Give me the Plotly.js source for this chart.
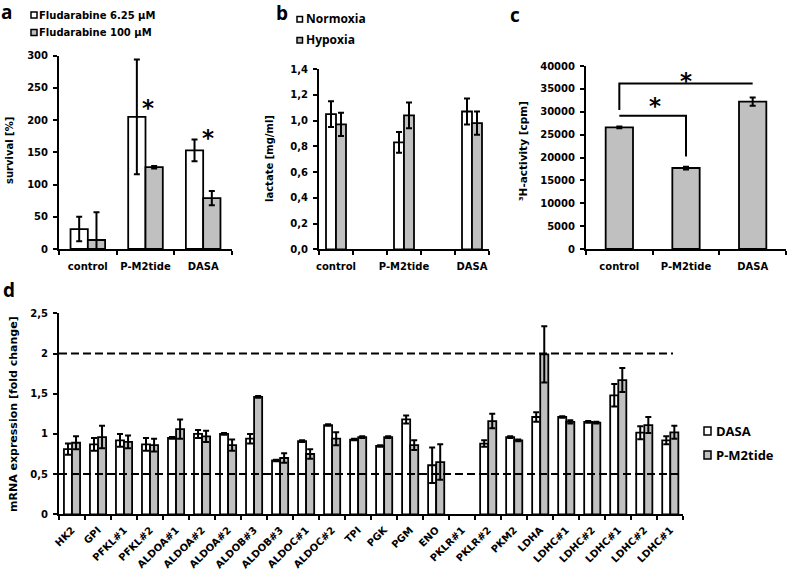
<!DOCTYPE html>
<html><head><meta charset="utf-8">
<script src="https://cdn.plot.ly/plotly-3.0.1.min.js"></script>
<style>html,body{margin:0;padding:0;background:#fff}#chart{width:787px;height:577px}</style>
</head><body><div id="chart"></div>
<script>
// ---- Panel a: survival [%]
const catsA = ['control', 'P-M2tide', 'DASA'];
const fluLowVals = [31, 205, 153];
const fluLowErr = [19, 89, 17];
const fluHighVals = [14, 127, 79];
const fluHighErr = [43, 2, 11];
const fluHighErrMinus = [14, 2, 11];

// ---- Panel b: lactate [mg/ml]
const catsB = ['control', '', 'P-M2tide', '', 'DASA'];
const normoxiaVals = [1.05, null, 0.83, null, 1.07];
const normoxiaErr = [0.10, null, 0.08, null, 0.10];
const hypoxiaVals = [0.97, null, 1.04, null, 0.98];
const hypoxiaErr = [0.09, null, 0.10, null, 0.09];

// ---- Panel c: 3H-activity [cpm]
const catsC = ['control', 'P-M2tide', 'DASA'];
const activityVals = [26600, 17700, 32200];
const activityErr = [200, 300, 900];

// ---- Panel d: mRNA expression [fold change]
const genes = ['HK2','GPI','PFKL#1','PFKL#2','ALDOA#1','ALDOA#2','ALDOA#2','ALDOB#3','ALDOB#3','ALDOC#1','ALDOC#2','TPI','PGK','PGM','ENO','PKLR#1','PKLR#2','PKM2','LDHA','LDHC#1','LDHC#2','LDHC#1','LDHC#2','LDHC#1'];
const dasaVals = [0.81,0.87,0.92,0.87,0.95,1.00,1.00,0.94,0.67,0.91,1.11,0.93,0.85,1.18,0.61,null,0.88,0.96,1.21,1.21,1.15,1.48,1.015,0.92];
const dasaErr  = [0.07,0.08,0.08,0.08,0.01,0.05,0.01,0.06,0.01,0.01,0.01,0.01,0.01,0.05,0.22,null,0.04,0.01,0.06,0.01,0.01,0.14,0.08,0.05];
const pm2Vals  = [0.89,0.96,0.90,0.86,1.06,0.97,0.86,1.46,0.70,0.75,0.94,0.96,0.96,0.86,0.65,null,1.16,0.92,1.99,1.15,1.14,1.67,1.11,1.02];
const pm2Err   = [0.08,0.14,0.08,0.08,0.12,0.07,0.07,0.01,0.06,0.06,0.08,0.01,0.01,0.06,0.22,null,0.09,0.01,0.35,0.02,0.01,0.15,0.10,0.08];
const refLines = [2, 0.5];

// ---------------------------------------------------------------
const W = 787, H = 577;
const px = v => v / W;
const py = v => 1 - v / H;
const GREY = '#c0c0c0';
const tickFont = {family: 'DejaVu Sans', size: 10, weight: 'bold', color: '#000'};
const idx = arr => arr.map((_, i) => i);
const bounds = n => Array.from({length: n + 1}, (_, i) => i - 0.5);

function barTrace(xs, ys, err, errMinus, color, width, offset, xa, ya) {
  const e = {type: 'data', array: err, color: '#000', thickness: 2, width: 3, visible: true};
  if (errMinus) { e.symmetric = false; e.arrayminus = errMinus; }
  return {type: 'bar', x: xs, y: ys, width: width, offset: offset,
    marker: {color: color, line: {color: '#000', width: 1.8}},
    error_y: e, xaxis: xa, yaxis: ya, showlegend: false, hoverinfo: 'skip'};
}

const data = [
  barTrace(idx(catsA), fluLowVals, fluLowErr, null, '#fff', 0.3, -0.3, 'x', 'y'),
  barTrace(idx(catsA), fluHighVals, fluHighErr, fluHighErrMinus, GREY, 0.3, 0, 'x', 'y'),
  barTrace(idx(catsB), normoxiaVals, normoxiaErr, null, '#fff', 0.294, -0.294, 'x2', 'y2'),
  barTrace(idx(catsB), hypoxiaVals, hypoxiaErr, null, GREY, 0.294, 0, 'x2', 'y2'),
  barTrace(idx(catsC), activityVals, activityErr, null, GREY, 0.41, -0.205, 'x3', 'y3'),
  barTrace(idx(genes), dasaVals, dasaErr, null, '#fff', 0.31, -0.31, 'x4', 'y4'),
  barTrace(idx(genes), pm2Vals, pm2Err, null, GREY, 0.31, 0, 'x4', 'y4')
];

function xAxis(dom, cats, anchor, angle, standoff) {
  const tv = [], tt = [];
  cats.forEach((c, i) => { if (c !== '') { tv.push(i); tt.push(c); } });
  return {domain: dom, anchor: anchor, range: [-0.5, cats.length - 0.5],
    showgrid: false, zeroline: false, showline: true, linecolor: '#000', linewidth: 2,
    tickmode: 'array', tickvals: tv, ticktext: tt, ticks: '', tickfont: tickFont,
    tickangle: angle, ticklabelstandoff: standoff, automargin: false, fixedrange: true,
    minor: {tickmode: 'array', tickvals: bounds(cats.length), ticks: 'outside',
            ticklen: 4, tickwidth: 2, tickcolor: '#000', showgrid: false}};
}
function yAxis(dom, range, dtick, fmt, anchor) {
  return {domain: dom, anchor: anchor, range: range, dtick: dtick, tick0: 0,
    tickformat: fmt, showgrid: false, zeroline: false, showline: true,
    linecolor: '#000', linewidth: 2, ticks: 'outside', ticklen: 4, tickwidth: 2,
    tickcolor: '#000', tickfont: tickFont, ticklabelstandoff: 3, automargin: false,
    fixedrange: true};
}

const shapes = [];
function legendSquare(x0, y0, x1, y1, color) {
  shapes.push({type: 'rect', xref: 'paper', yref: 'paper', x0: px(x0), x1: px(x1),
    y0: py(y1), y1: py(y0), fillcolor: color, line: {color: '#000', width: 1.5}});
}
legendSquare(31, 12, 37, 18, '#fff');
legendSquare(31, 29.5, 37, 35.5, GREY);
legendSquare(297, 16.5, 302.5, 22, '#fff');
legendSquare(297, 37.5, 302.5, 43, GREY);
legendSquare(704, 427, 711, 435, '#fff');
legendSquare(704, 451, 711, 459, GREY);

// significance brackets in panel c
shapes.push({type: 'path', xref: 'x3', yref: 'y3', path: 'M 0,30400 L 0,36200 L 2,36200',
  line: {color: '#000', width: 2}});
shapes.push({type: 'path', xref: 'x3', yref: 'y3', path: 'M 0,29100 L 1,29100 L 1,20200',
  line: {color: '#000', width: 2}});
// reference lines in panel d
refLines.forEach((v, i) => shapes.push({type: 'line', xref: 'x4 domain', yref: 'y4',
  x0: 0, x1: i === 0 ? 0.9835 : 0.9915, y0: v, y1: v,
  line: {color: '#000', width: 2, dash: '8px,4px'}}));

const ann = [];
function txt(x, y, text, font, opts) {
  ann.push(Object.assign({xref: 'paper', yref: 'paper', x: px(x), y: py(y), text: text,
    showarrow: false, xanchor: 'left', yanchor: 'middle', font: font}, opts || {}));
}
const letterFont = {family: 'Open Sans', size: 19, weight: 'bold', color: '#000'};
txt(-1, 11.5, 'a', letterFont);
txt(275, 12.5, 'b', letterFont, {borderpad: 0});
txt(508, 14.5, 'c', letterFont);
txt(1, 289.5, 'd', letterFont);

const legAFont = {family: 'DejaVu Sans', size: 10, weight: 'bold', color: '#000'};
txt(37, 15, 'Fludarabine 6.25 µM', legAFont);
txt(37, 32.5, 'Fludarabine 100 µM', legAFont);
const legBFont = {family: 'Open Sans', size: 12, weight: 'bold', color: '#000'};
txt(304, 19, 'Normoxia', legBFont);
txt(304, 40, 'Hypoxia', legBFont);
const legDFont = {family: 'Open Sans', size: 13, weight: 'bold', color: '#000'};
txt(714, 431, 'DASA', legDFont);
txt(714, 455, 'P-M2tide', legDFont);

const titleFont = s => ({family: 'DejaVu Sans', size: s, weight: 'bold', color: '#000'});
txt(9, 151, 'survival [%]', titleFont(10), {xanchor: 'center', textangle: -90});
txt(269, 159, 'lactate [mg/ml]', titleFont(10), {xanchor: 'center', textangle: -90});
txt(523, 151, '³H-activity [cpm]', titleFont(10.5), {xanchor: 'center', textangle: -90});
txt(13, 414, 'mRNA expression [fold change]', titleFont(11), {xanchor: 'center', textangle: -90});

// significance stars
const starFont = {family: 'DejaVu Sans', size: 23, weight: 'bold', color: '#000'};
function star(xa, ya, x, y) {
  ann.push({xref: xa, yref: ya, x: x, y: y, text: '*', showarrow: false,
    xanchor: 'center', yanchor: 'middle', yshift: -6, font: starFont});
}
star('x', 'y', 1.05, 228);
star('x', 'y', 2.09, 182);
star('x3', 'y3', 1.0, 38000);
star('x3', 'y3', 0.535, 32600);

const layout = {
  width: W, height: H, margin: {l: 0, r: 0, t: 0, b: 0},
  paper_bgcolor: '#fff', plot_bgcolor: 'rgba(0,0,0,0)',
  barmode: 'overlay', separators: ',.', showlegend: false,
  xaxis: xAxis([px(59), px(232)], catsA, 'y', 0, 7),
  yaxis: yAxis([py(249), py(55.7)], [0, 300], 50, '', 'x'),
  xaxis2: xAxis([px(319), px(489)], catsB, 'y2', 0, 7),
  yaxis2: yAxis([py(249.3), py(69)], [0, 1.4], 0.2, '.1f', 'x2'),
  xaxis3: xAxis([px(586), px(786)], catsC, 'y3', 0, 7),
  yaxis3: yAxis([py(249), py(66)], [0, 40000], 5000, 'd', 'x3'),
  xaxis4: xAxis([px(59), px(683.3)], genes, 'y4', -45, 4),
  yaxis4: yAxis([py(514.3), py(313.3)], [0, 2.5], 0.5, '', 'x4'),
  shapes: shapes, annotations: ann
};
Plotly.newPlot('chart', data, layout, {staticPlot: true, displayModeBar: false});
</script></body></html>
